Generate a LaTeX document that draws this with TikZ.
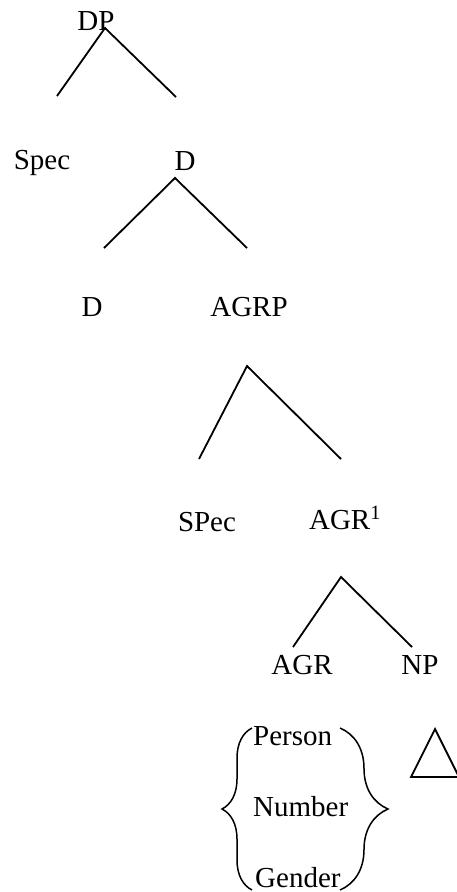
\documentclass[tikz,border=0pt]{standalone}
\usepackage{fontspec}
\setmainfont{Liberation Serif}
\usetikzlibrary{decorations.pathreplacing}

\begin{document}
\begin{tikzpicture}[x=1pt, y=-1pt,
    every node/.style={font=\fontsize{29}{34}\selectfont, inner sep=0pt, anchor=base},
    branch/.style={line width=1.8pt},
    curly/.style={line width=1.5pt, decorate, decoration={brace, amplitude=#1}}]
            \useasboundingbox (0,0) rectangle (456,892);

            \node (dp) at (96,30) {DP};
            \node (spec) at (42,169) {Spec};
            \node (d1) at (185,170) {D};
            \node (d2) at (92,316) {D};
            \node (agrp) at (249,316) {AGRP};
            \node (spec2) at (207,531) {SPec};
            \node (agrbar) at (345,529) {AGR\textsuperscript{1}};
            \node (agr) at (302,674) {AGR};
            \node (np) at (420,674) {NP};
            \node[anchor=base west] (person) at (253,745) {Person};
            \node[anchor=base west] (number) at (253,816) {Number};
            \node[anchor=base west] (gender) at (255,887) {Gender};

            % branch points
            \coordinate (dp-top) at (105,28);
            \coordinate (dp-l) at (57,96);
            \coordinate (dp-r) at (176,97);
            \coordinate (d1-top) at (175,178);
            \coordinate (d1-l) at (104,248);
            \coordinate (d1-r) at (247,248);
            \coordinate (agrp-top) at (247,366);
            \coordinate (agrp-l) at (199,459);
            \coordinate (agrp-r) at (341,459);
            \coordinate (agrbar-top) at (341,577);
            \coordinate (agrbar-l) at (293,647);
            \coordinate (agrbar-r) at (412,647);

            \draw[branch] (dp-l) -- (dp-top) -- (dp-r);
            \draw[branch] (d1-l) -- (d1-top) -- (d1-r);
            \draw[branch] (agrp-l) -- (agrp-top) -- (agrp-r);
            \draw[branch] (agrbar-l) -- (agrbar-top) -- (agrbar-r);

            % features and NP triangle
            \coordinate (lb-bot) at (252,890);
            \coordinate (lb-top) at (252,728);
            \coordinate (rb-top) at (340,728);
            \coordinate (rb-bot) at (340,890);
            \draw[curly=30] (lb-bot) -- (lb-top);
            \draw[curly=48] (rb-top) -- (rb-bot);

            \coordinate (tri-top) at (435,729);
            \coordinate (tri-l) at (411,777);
            \coordinate (tri-r) at (459,777);
            \draw[branch] (tri-top) -- (tri-l) -- (tri-r) -- cycle;
        \end{tikzpicture}
\end{document}
